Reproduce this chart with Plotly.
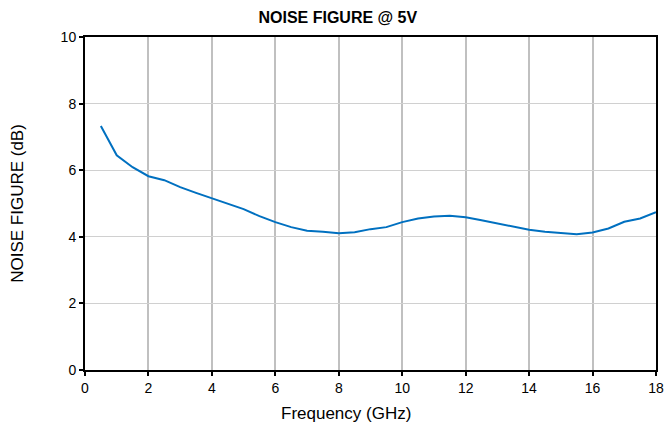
import plotly.graph_objects as go

freq_ghz = [0.5, 1.0, 1.5, 2.0, 2.5, 3.0, 3.5, 4.0, 4.5, 5.0, 5.5, 6.0, 6.5, 7.0, 7.5, 8.0,
            8.5, 9.0, 9.5, 10.0, 10.5, 11.0, 11.5, 12.0, 12.5, 13.0, 13.5, 14.0, 14.5, 15.0,
            15.5, 16.0, 16.5, 17.0, 17.5, 18.0]
noise_figure_db = [7.33, 6.45, 6.09, 5.82, 5.70, 5.49, 5.32, 5.16, 5.01, 4.83, 4.62, 4.44, 4.29,
                   4.18, 4.15, 4.11, 4.14, 4.23, 4.29, 4.44, 4.55, 4.61, 4.63, 4.59, 4.50, 4.41,
                   4.30, 4.21, 4.15, 4.11, 4.08, 4.13, 4.25, 4.45, 4.55, 4.74]

fig = go.Figure()
fig.add_trace(go.Scatter(x=freq_ghz, y=noise_figure_db, mode="lines",
                         line=dict(color="#0070C0", width=2), showlegend=False))

font = "Liberation Sans, Arial, sans-serif"
fig.update_layout(
    width=665, height=428,
    margin=dict(l=85, r=9, t=37, b=58),
    paper_bgcolor="white", plot_bgcolor="white",
    font=dict(family=font, size=14, color="black"),
    title=dict(text="<b>NOISE FIGURE @ 5V</b>", x=0.508, xanchor="center", xref="container",
               y=0.959, yanchor="middle",
               font=dict(family="Liberation Sans Narrow, Arial Narrow, Liberation Sans, sans-serif",
                         size=16, color="black")),
    annotations=[dict(text="Frequency (GHz)", xref="paper", yref="paper", x=0.457, y=-0.132,
                      xanchor="center", yanchor="middle", showarrow=False,
                      font=dict(family=font, size=17, color="black"))],
)
fig.update_xaxes(range=[0, 18], dtick=2, tick0=0, showgrid=True, gridcolor="#C0C0C0", gridwidth=2,
                 showline=True, linecolor="black", linewidth=2, mirror=True,
                 ticks="outside", ticklen=4, tickcolor="black", tickwidth=2,
                 zeroline=False, automargin=False)
fig.update_yaxes(range=[0, 10], dtick=2, tick0=0, showgrid=True, gridcolor="#D0D0D0", gridwidth=1,
                 showline=True, linecolor="black", linewidth=2, mirror=True,
                 ticks="outside", ticklen=4, tickcolor="black", tickwidth=2,
                 zeroline=False, automargin=False,
                 title=dict(text="NOISE FIGURE (dB)", font=dict(size=17), standoff=33))

fig.write_html("out.html")
